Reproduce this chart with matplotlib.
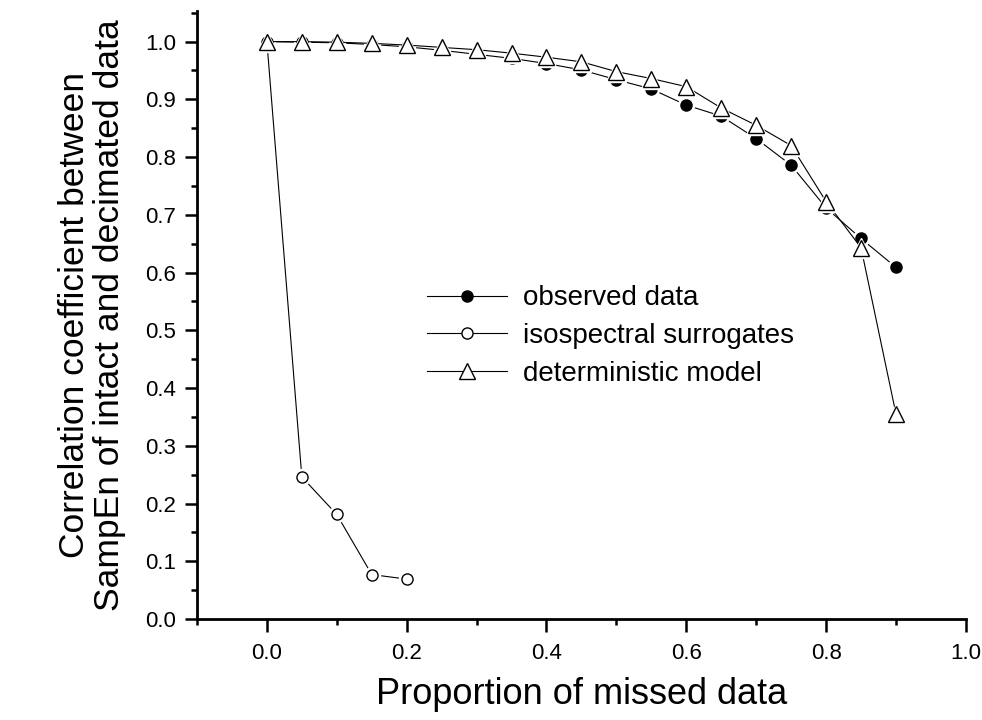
import numpy as np
import matplotlib.pyplot as plt
from matplotlib.lines import Line2D
from matplotlib.ticker import MultipleLocator

plt.rcParams['font.family'] = ['Liberation Sans', 'DejaVu Sans']

# proportion of decimated samples
missed = [0.0, 0.05, 0.1, 0.15, 0.2, 0.25, 0.3, 0.35, 0.4, 0.45,
          0.5, 0.55, 0.6, 0.65, 0.7, 0.75, 0.8, 0.85, 0.9]
observed = [1.0, 0.999, 0.998, 0.995, 0.991, 0.985, 0.978, 0.971, 0.962, 0.951,
            0.934, 0.918, 0.890, 0.871, 0.832, 0.786, 0.712, 0.659, 0.609]
deterministic = [1.0, 1.0, 0.999, 0.997, 0.994, 0.990, 0.986, 0.980, 0.973, 0.965,
                 0.948, 0.936, 0.922, 0.885, 0.855, 0.820, 0.723, 0.643, 0.355]
missed_surr = [0.0, 0.05, 0.1, 0.15, 0.2]
surrogates = [1.0, 0.246, 0.181, 0.077, 0.069]

fig = plt.figure(figsize=(9.82, 7.2), dpi=100)
ax = fig.add_axes([0.2006, 0.1403, 0.783, 0.8444])


def series(x, y, marker, ms, face, z):
    # connecting line, then a white halo so the line stops short of each marker
    ax.plot(x, y, '-', color='black', lw=0.8, zorder=z)
    ax.plot(x, y, marker, ls='none', ms=ms + 3.5, mfc='white', mec='white',
            zorder=z + 0.1)
    ax.plot(x, y, marker, ls='none', ms=ms, mfc=face, mec='black', mew=1.0,
            zorder=z + 0.2)


series(missed_surr, surrogates, 'o', 8, 'white', 2)
series(missed, observed, 'o', 8, 'black', 3)
series(missed, deterministic, '^', 11, 'white', 4)

handles = [
    Line2D([], [], color='black', lw=0.8, marker='o', ms=8, mfc='black', mec='black'),
    Line2D([], [], color='black', lw=0.8, marker='o', ms=8, mfc='white', mec='black'),
    Line2D([], [], color='black', lw=0.8, marker='^', ms=11, mfc='white', mec='black'),
]
labels = ['observed data', 'isospectral surrogates', 'deterministic model']

ax.set_xlim(-0.1, 1.0)
ax.set_ylim(0.0, 1.053)
ax.set_xticks([0.0, 0.2, 0.4, 0.6, 0.8, 1.0])
ax.set_xticklabels(['0.0', '0.2', '0.4', '0.6', '0.8', '1.0'])
ax.xaxis.set_minor_locator(MultipleLocator(0.1))
ax.set_yticks(np.round(np.arange(0, 1.01, 0.1), 1))
ax.set_yticklabels(['%.1f' % v for v in np.arange(0, 1.01, 0.1)])
ax.yaxis.set_minor_locator(MultipleLocator(0.05))

for s in ['top', 'right']:
    ax.spines[s].set_visible(False)
for s in ['left', 'bottom']:
    ax.spines[s].set_linewidth(2)
ax.tick_params(which='major', direction='out', length=9, width=1.8,
               labelsize=16, pad=6)
ax.tick_params(which='minor', direction='out', length=4.5, width=1.8)
ax.tick_params(axis='x', which='major', pad=8)

ax.set_xlabel('Proportion of missed data', fontsize=26, labelpad=10)
ax.set_ylabel('Correlation coefficient between\nSampEn of intact and decimated data',
              fontsize=25.5, labelpad=14, linespacing=1.05)

ax.legend(handles, labels, loc='center left', bbox_to_anchor=(0.299, 0.4655),
          frameon=False, fontsize=20, handlelength=2.9, handletextpad=0.55,
          labelspacing=0.42, borderpad=0, borderaxespad=0)

fig.savefig('out.png', dpi=100)
